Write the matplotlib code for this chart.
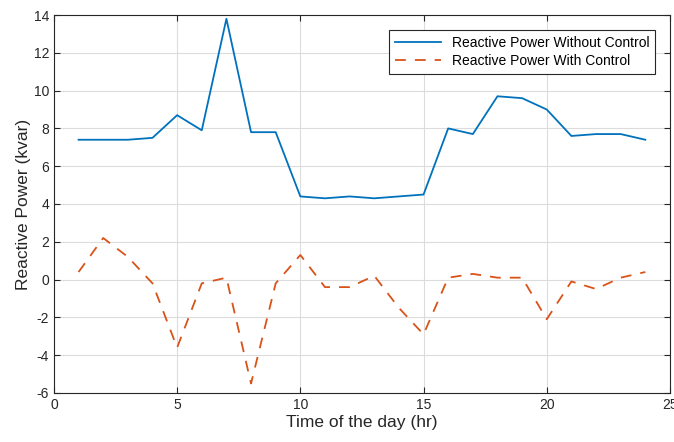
import matplotlib
matplotlib.use("Agg")
import matplotlib.pyplot as plt

hours = list(range(1, 25))
q_without = [7.4, 7.4, 7.4, 7.5, 8.7, 7.9, 13.8, 7.8, 7.8, 4.4, 4.3, 4.4,
             4.3, 4.4, 4.5, 8.0, 7.7, 9.7, 9.6, 9.0, 7.6, 7.7, 7.7, 7.4]
q_with = [0.4, 2.2, 1.2, -0.2, -3.6, -0.2, 0.1, -5.5, -0.2, 1.3, -0.4, -0.4,
          0.2, -1.5, -2.9, 0.1, 0.3, 0.1, 0.1, -2.1, -0.1, -0.5, 0.1, 0.4]
x_ticks = [0, 5, 10, 15, 20, 25]
y_ticks = [-6, -4, -2, 0, 2, 4, 6, 8, 10, 12, 14]

plt.rcParams["font.family"] = ["Liberation Sans", "DejaVu Sans"]
plt.rcParams["axes.unicode_minus"] = False

fig = plt.figure(figsize=(6.74, 4.42), dpi=100)
ax = fig.add_axes([0.080, 0.111, 0.914, 0.855])

ax.plot(hours, q_without, color="#0072BD", lw=1.3,
        label="Reactive Power Without Control")
ax.plot(hours, q_with, color="#D95319", lw=1.3, linestyle=(0, (6, 5)),
        label="Reactive Power With Control")

ax.set_xlim(0, 25)
ax.set_ylim(-6, 14)
ax.set_xticks(x_ticks)
ax.set_yticks(y_ticks)
ax.grid(True, color="#dcdcdc", lw=0.8)
ax.set_axisbelow(True)
ax.tick_params(direction="in", top=True, right=True, length=4,
               labelsize=10, colors="#262626")
for spine in ax.spines.values():
    spine.set_color("#262626")
    spine.set_linewidth(0.8)

ax.set_xlabel("Time of the day (hr)", fontsize=12.5, color="#262626", labelpad=2)
ax.set_ylabel("Reactive Power (kvar)", fontsize=12.5, color="#262626", labelpad=2)

leg = ax.legend(loc="upper right", bbox_to_anchor=(0.987, 0.978), fontsize=10,
                fancybox=False, framealpha=1, edgecolor="#262626",
                handlelength=3.3, borderpad=0.4, labelspacing=0.3)
leg.get_frame().set_linewidth(0.8)

fig.savefig("out.png", dpi=100)
